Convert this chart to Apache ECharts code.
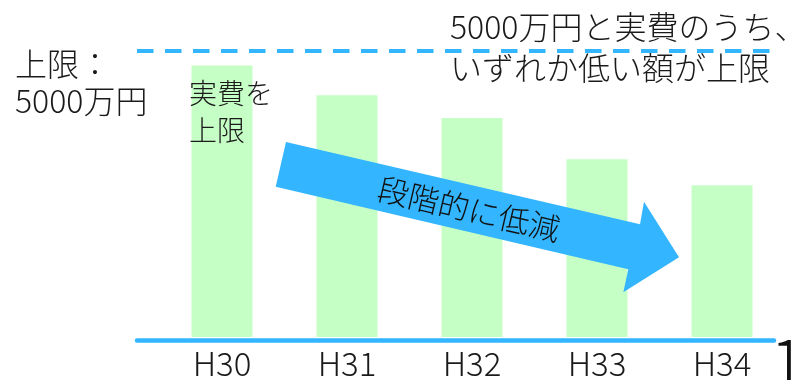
<!DOCTYPE html>
<html>
<head>
<meta charset="utf-8">
<script src="https://cdn.jsdelivr.net/npm/echarts@6/dist/echarts.min.js"></script>
<style>
html,body{margin:0;padding:0;background:#fff;}
#chart{width:791px;height:380px;}
</style>
</head>
<body>
<div id="chart"></div>
<script>
// Data
const categories = ['H30', 'H31', 'H32', 'H33', 'H34'];
const expenses = [4740, 4220, 3820, 3100, 2650];   // 実費（万円, estimated)
const capValue = 5000;                            // 上限：5000万円
const capLabel = ['上限：', '5000万円'];
const noteLabel = ['5000万円と実費のうち、', 'いずれか低い額が上限'];
const firstYearLabel = ['実費を', '上限'];
const arrowLabel = '段階的に低減';
const pageNumber = '1';

const FONT = '"Noto Sans CJK JP", "Noto Sans", sans-serif';
const BLUE = '#33B5FF';
const GREEN = '#C6FFC6';

const chart = echarts.init(document.getElementById('chart'), null, {renderer: 'canvas'});

const option = {
  animation: false,
  backgroundColor: '#ffffff',
  grid: [
    {left: 159.5, right: 6.5, top: 50.5, bottom: 39.5},
    {left: 137, right: 17, top: 50.5, bottom: 39.5}
  ],
  xAxis: [
    {
      type: 'category', gridIndex: 0, data: categories,
      axisLine: {show: false}, axisTick: {show: false},
      axisLabel: {color: '#1a1a1a', fontSize: 33, fontWeight: 300, fontFamily: FONT, margin: 10}
    },
    {
      type: 'category', gridIndex: 1, data: categories,
      axisLine: {show: true, lineStyle: {color: BLUE, width: 4.5}},
      axisTick: {show: false}, axisLabel: {show: false}
    }
  ],
  yAxis: [
    {type: 'value', gridIndex: 0, min: 0, max: capValue, show: false},
    {type: 'value', gridIndex: 1, min: 0, max: capValue, show: false}
  ],
  series: [
    {
      type: 'bar', xAxisIndex: 0, yAxisIndex: 0,
      data: expenses, barWidth: 61,
      itemStyle: {color: GREEN}, z: 1
    },
    {
      type: 'line', xAxisIndex: 1, yAxisIndex: 1, data: [],
      markLine: {
        silent: true, symbol: ['none', 'none'], label: {show: false},
        lineStyle: {color: BLUE, width: 4, type: [16.5, 11.5], cap: 'butt'},
        data: [{yAxis: capValue}]
      }
    }
  ],
  graphic: [
    {
      type: 'polygon', z: 50,
      shape: {points: [[286, 142], [640, 224.3], [644, 201.7], [679, 257.3], [623.3, 292.3], [628.3, 269.3], [275.7, 186.7]]},
      style: {fill: BLUE}
    },
    {
      type: 'text', z: 60, x: 469, y: 209, rotation: -0.229,
      style: {text: arrowLabel, font: '300 31px ' + FONT, fill: '#111', align: 'center', verticalAlign: 'middle'}
    },
    {
      type: 'text', z: 60, x: 15, y: 45,
      style: {text: capLabel.join('\n'), font: '300 32px ' + FONT, fill: '#1a1a1a', lineHeight: 37, verticalAlign: 'top'}
    },
    {
      type: 'text', z: 60, x: 189, y: 75,
      style: {text: firstYearLabel.join('\n'), font: '300 28px ' + FONT, fill: '#1a1a1a', lineHeight: 37, verticalAlign: 'top'}
    },
    {
      type: 'text', z: 60, x: 450, y: 6,
      style: {text: noteLabel.join('\n'), font: '300 32px ' + FONT, fill: '#1a1a1a', lineHeight: 41, verticalAlign: 'top'}
    },
    {
      type: 'text', z: 60, x: 770, y: 329,
      style: {text: pageNumber, font: '300 66px ' + FONT, fill: '#111', verticalAlign: 'top'}
    }
  ]
};
chart.setOption(option);
</script>
</body>
</html>
